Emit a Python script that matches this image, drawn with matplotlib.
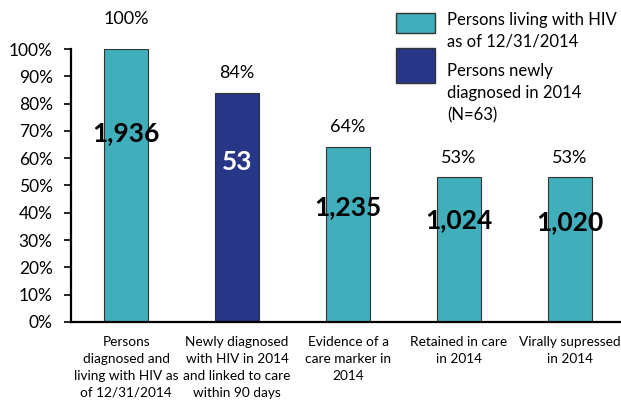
import matplotlib.pyplot as plt
from matplotlib.patches import Rectangle
import numpy as np

plt.rcParams['font.family'] = ['Lato', 'DejaVu Sans']

# Datos
categorias = ['Persons\ndiagnosed and\nliving with HIV as\nof 12/31/2014',
              'Newly diagnosed\nwith HIV in 2014\nand linked to care\nwithin 90 days',
              'Evidence of a\ncare marker in\n2014',
              'Retained in care\nin 2014',
              'Virally supressed\nin 2014']
porcentajes = [1.00, 0.84, 0.64, 0.53, 0.53]
conteos = ['1,936', '53', '1,235', '1,024', '1,020']
grupo = ['living', 'new', 'living', 'living', 'living']

# Estilo
colores = {'living': '#40aebb', 'new': '#283687'}
color_conteo = {'living': 'black', 'new': 'white'}
y_conteo = [0.69, 0.585, 0.42, 0.373, 0.366]   # posición vertical de las cifras
sep_pct = [30, 20, 20, 19, 19]                  # separación (px) de las etiquetas de %

fig = plt.figure(figsize=(6.21, 4.05), dpi=100)
ax = fig.add_axes([0.1139, 0.205, 0.8861, 0.674])

x = np.arange(len(categorias))
barras = ax.bar(x, porcentajes, width=0.40,
                color=[colores[g] for g in grupo],
                edgecolor='#333333', linewidth=0.8, zorder=2)

for i, b in enumerate(barras):
    ax.annotate(f'{porcentajes[i]:.0%}', (b.get_x() + b.get_width() / 2, b.get_height()),
                xytext=(0, sep_pct[i] * 0.72), textcoords='offset points',
                ha='center', va='center', fontsize=13)
    ax.text(x[i], y_conteo[i], conteos[i], ha='center', va='center',
            fontsize=19, fontweight='bold', color=color_conteo[grupo[i]], zorder=3)

ax.set_xlim(-0.5, 4.46)
ax.set_ylim(0, 1)
ax.set_yticks(np.arange(0, 1.01, 0.1))
ax.set_yticklabels([f'{v:.0%}' for v in np.arange(0, 1.01, 0.1)], fontsize=12.5)
ax.tick_params(axis='y', direction='out', length=5, width=1.2, pad=8)
ax.set_xticks(x)
ax.set_xticklabels(categorias, fontsize=9.8, linespacing=1.5)
ax.tick_params(axis='x', length=0, pad=10)

for s in ['top', 'right']:
    ax.spines[s].set_visible(False)
ax.spines['left'].set_linewidth(1.6)
ax.spines['bottom'].set_linewidth(1.6)

# Leyenda manual
W, H = 621, 405
def caja(x0, y0, x1, y1, c):
    fig.add_artist(Rectangle((x0 / W, 1 - y1 / H), (x1 - x0) / W, (y1 - y0) / H,
                             transform=fig.transFigure, facecolor=c,
                             edgecolor='#333333', linewidth=1))

caja(396, 12.5, 435, 33, colores['living'])
caja(396, 48, 435, 83, colores['new'])
fig.text(447 / W, 1 - 31 / H, 'Persons living with HIV\nas of 12/31/2014',
         fontsize=12, va='center', ha='left', linespacing=1.45)
fig.text(447 / W, 1 - 93 / H, 'Persons newly\ndiagnosed in 2014\n(N=63)',
         fontsize=12, va='center', ha='left', linespacing=1.45)

fig.savefig('out.png', dpi=100)
